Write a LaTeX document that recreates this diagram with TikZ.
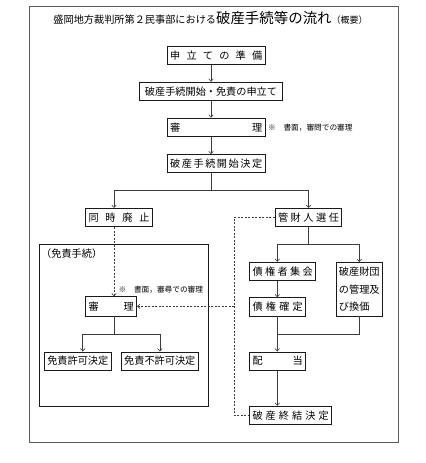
\documentclass[tikz,border=0pt]{standalone}
\usepackage{fontspec}
\usepackage{tikz}
\usetikzlibrary{arrows.meta,positioning,calc}
\newfontfamily\jp{Noto Sans CJK JP}
\definecolor{ink}{HTML}{1A1A1A}
\definecolor{frameline}{HTML}{5A5A5A}

\begin{document}
\begin{tikzpicture}[x=1bp, y=-1bp,
    box/.style={rectangle, draw=ink, line width=0.7bp, inner xsep=2.8bp, inner ysep=0pt, minimum height=18.3bp, font=\jp\fontsize{10.2}{12}\selectfont},
    conn/.style={draw=ink!85, line width=0.6bp},
    arr/.style={conn, -{Straight Barb[length=2.5bp,width=4.5bp]}},
    dotline/.style={conn, dash pattern=on 2bp off 1.5bp},
    dotarr/.style={arr, dash pattern=on 2bp off 1.5bp},
    note/.style={anchor=west, inner sep=0pt, font=\jp\fontsize{7.7}{9}\selectfont}]
    \useasboundingbox (0,0) rectangle (425,463);
    \draw[frameline, line width=0.8bp] (29.5,6) rectangle (398,442);

    \node[inner sep=0pt, font=\jp] (title) at (210.5,18.3) {\fontsize{10.2}{12}\selectfont 盛岡地方裁判所第２民事部における{\fontsize{14.5}{16}\selectfont 破産手続等の流れ}{\fontsize{9}{11}\selectfont （概要）}};

    % main line
    \node[box] (prep) at (216.2,55.2) {\makebox[92bp][s]{申\hfill 立\hfill て\hfill の\hfill 準\hfill 備}};
    \node[box, minimum width=143.4bp] (petition) at (211,91.3) {破産手続開始・免責の申立て};
    \node[box] (hearing) at (216.2,127.2) {\makebox[92bp][s]{審\hfill 理}};
    \node[note] (hearingnote) at (268,127.2) {※　書面，審問での審理};
    \node[box] (commence) at (216.2,163.7) {\makebox[92bp][s]{破\hfill 産\hfill 手\hfill 続\hfill 開\hfill 始\hfill 決\hfill 定}};

    \node[box] (abolish) at (119,217.5) {\makebox[61bp][s]{同\hfill 時\hfill 廃\hfill 止}};
    \node[box] (trustee) at (308.5,217.5) {\makebox[61bp][s]{管\hfill 財\hfill 人\hfill 選\hfill 任}};

    % discharge procedure
    \draw[draw=ink, line width=0.7bp] (39.7,244.3) rectangle (208.7,406.3);
    \node[anchor=west, inner sep=0pt, font=\jp\fontsize{10.2}{12}\selectfont] (dclabel) at (41,254) {（免責手続）};
    \node[box, minimum height=19.3bp] (hearingB) at (111.2,306.3) {\makebox[45.4bp][s]{審\hfill 理}};
    \node[note] (hearingBnote) at (118.5,290) {※　書面，審尋での審理};
    \node[box, minimum width=66.3bp] (grant) at (77.8,361) {免責許可決定};
    \node[box, minimum width=77bp] (deny) at (159.8,361) {免責不許可決定};

    % trustee case
    \node[box] (creditors) at (282.7,271.3) {\makebox[60.4bp][s]{債\hfill 権\hfill 者\hfill 集\hfill 会}};
    \node[box, minimum width=46bp, minimum height=53.7bp, align=left, font=\jp\fontsize{10.2}{17.8}\selectfont] (estate) at (359.3,289.2) {破産財団\\の管理及\\び換価};
    \node[box] (claims) at (277.7,306.8) {\makebox[50.4bp][s]{債\hfill 権\hfill 確\hfill 定}};
    \node[box] (dividend) at (277.7,361) {\makebox[50.4bp][s]{配\hfill 当}};
    \node[box] (closing) at (290.7,415.3) {\makebox[76.4bp][s]{破\hfill 産\hfill 終\hfill 結\hfill 決\hfill 定}};

    \coordinate (trunk) at (211,0);
    \coordinate (split) at (211,190);
    \coordinate (lft) at (114,0);
    \coordinate (split2) at (114,334);
    \coordinate (gx) at (82.7,0);
    \coordinate (split3) at (308.5,244.3);
    \coordinate (cx) at (277.3,0);
    \coordinate (merge) at (277.3,334);
    \coordinate (rail) at (234.3,0);

    \draw[arr] (prep.south -| trunk) -- (petition.north -| trunk);
    \draw[arr] (petition.south -| trunk) -- (hearing.north -| trunk);
    \draw[arr] (hearing.south -| trunk) -- (commence.north -| trunk);
    \draw[conn] (commence.south -| trunk) -- (split);
    \draw[arr] (split) -| (abolish.north -| lft);
    \draw[arr] (split) -| (trustee.north);

    \draw[dotarr] (abolish.south -| lft) -- (hearingB.north -| lft);
    \draw[conn] (hearingB.south -| lft) -- (split2);
    \draw[arr] (split2) -| (grant.north -| gx);
    \draw[arr] (split2) -| (deny.north);

    \draw[conn] (trustee.south) -- (split3);
    \draw[arr] (split3) -| (creditors.north -| cx);
    \draw[arr] (split3) -| (estate.north);
    \draw[arr] (creditors.south -| cx) -- (claims.north -| cx);
    \draw[arr] (claims.south -| cx) -- (dividend.north -| cx);
    \draw[conn] (estate.south) |- (merge);
    \draw[arr] (dividend.south -| cx) -- (closing.north -| cx);

    \draw[dotline] (trustee.west) -| (rail |- closing.west) -- (closing.west);
    \draw[dotarr] (rail |- hearingB.east) -- (hearingB.east);
\end{tikzpicture}
\end{document}
